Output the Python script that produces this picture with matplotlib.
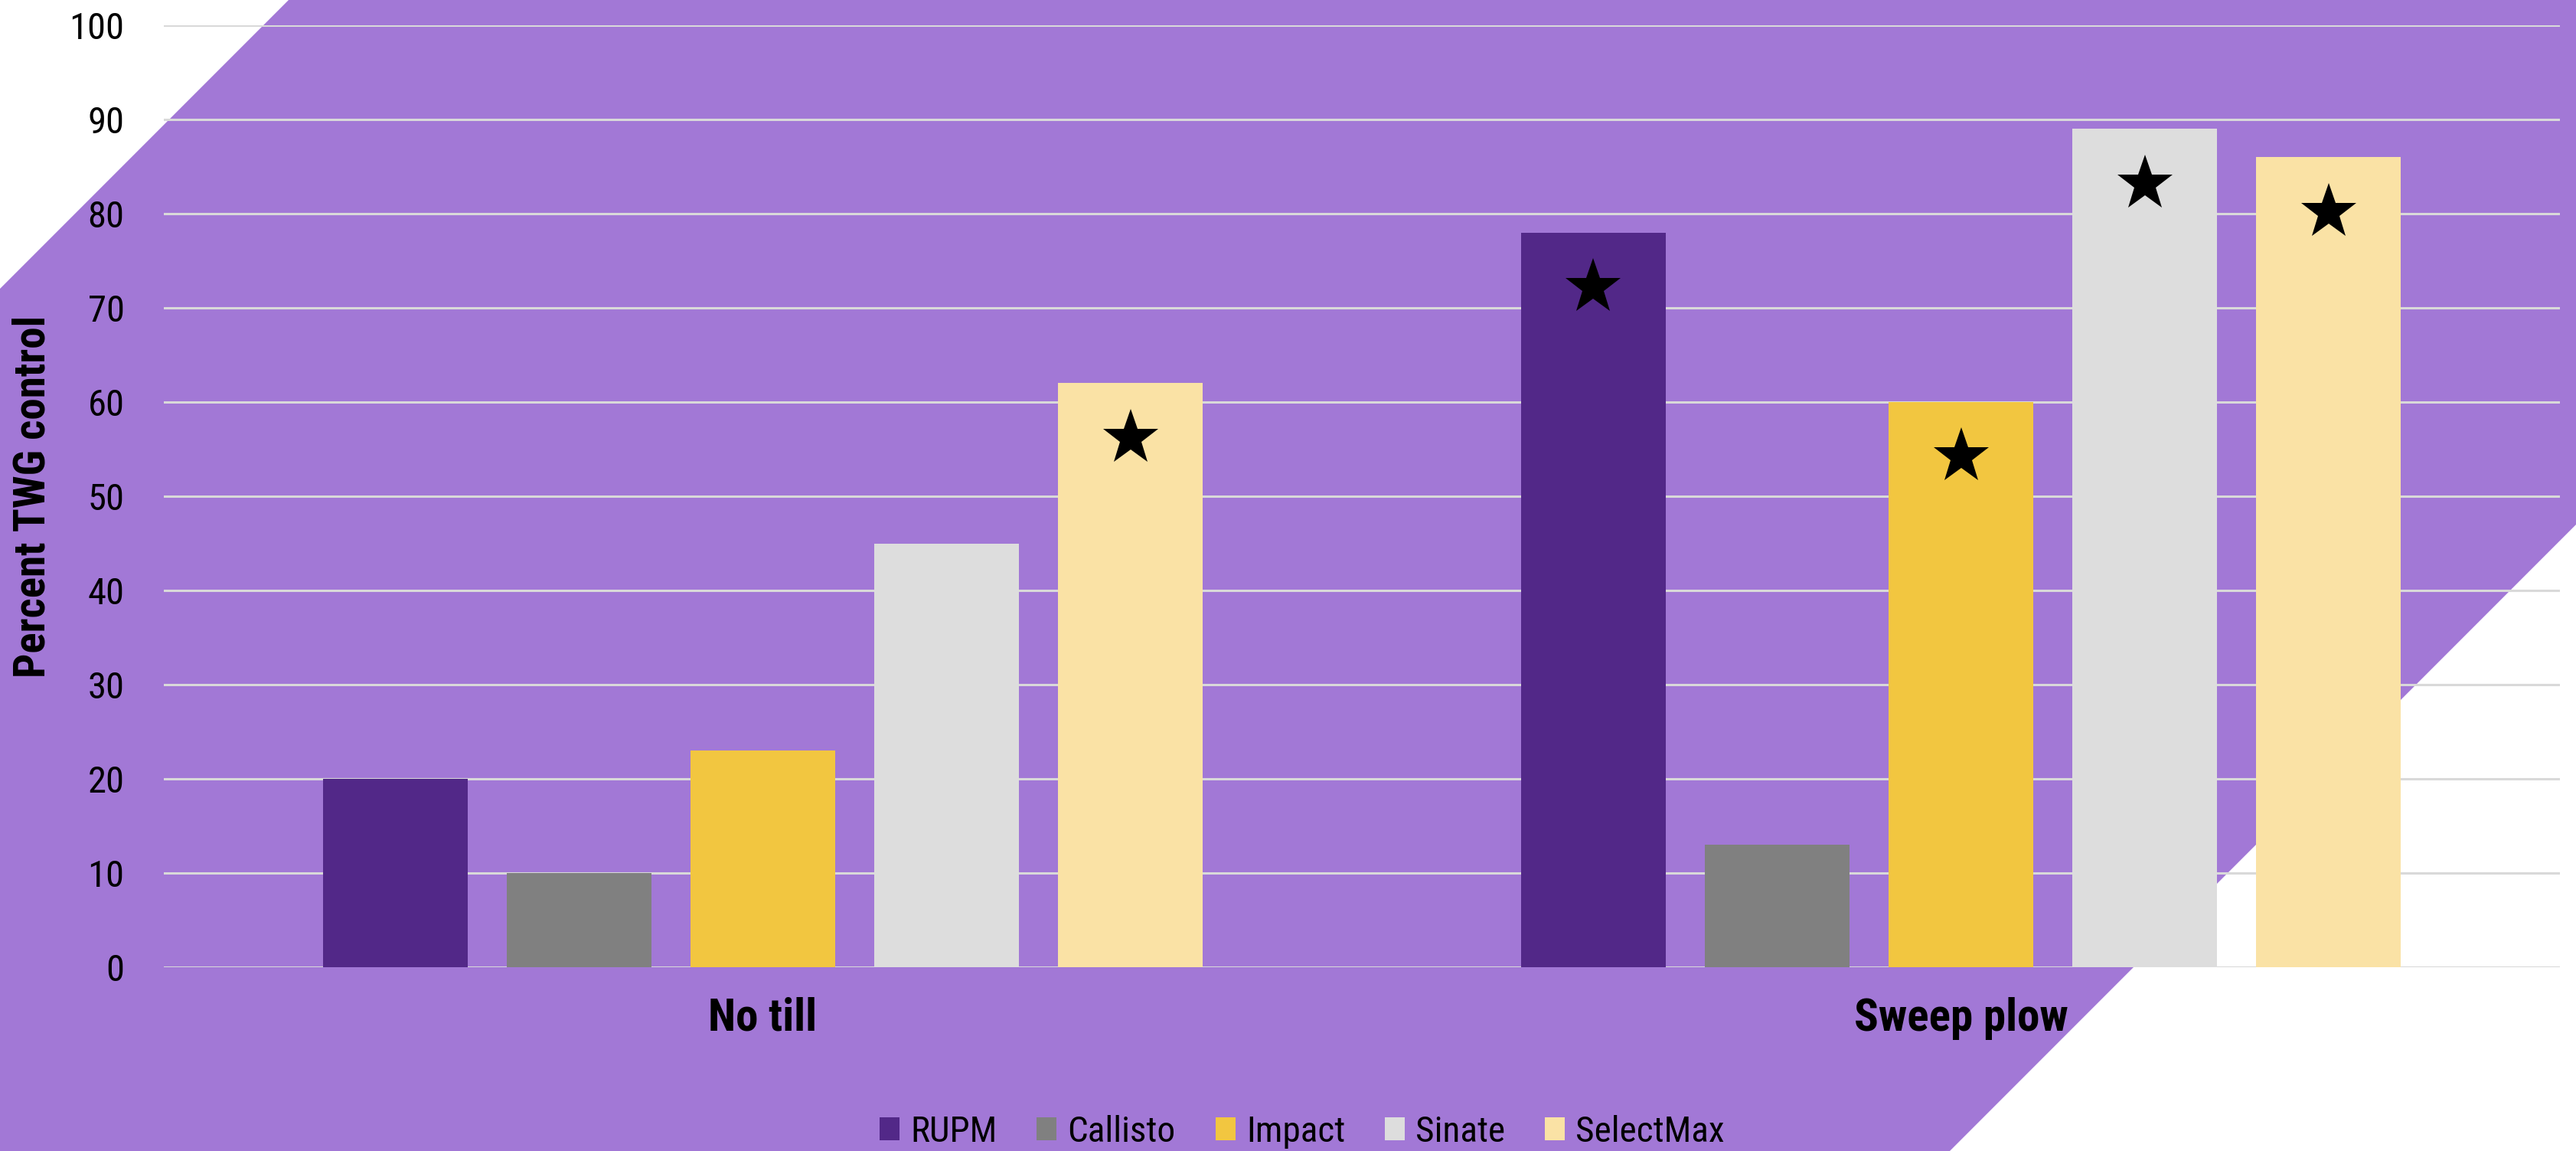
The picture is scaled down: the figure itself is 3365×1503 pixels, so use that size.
import matplotlib
matplotlib.use("Agg")
import matplotlib.pyplot as plt
from matplotlib.patches import Polygon, Patch
from matplotlib import font_manager
import numpy as np

categories = ["No till", "Sweep plow"]
series = ["RUPM", "Callisto", "Impact", "Sinate", "SelectMax"]
rupm = [20, 78]
callisto = [10, 13]
impact = [23, 60]
sinate = [45, 89]
selectmax = [62, 86]
values = [rupm, callisto, impact, sinate, selectmax]
# significance stars (True where a star is drawn)
stars_rupm = [False, True]
stars_callisto = [False, False]
stars_impact = [False, True]
stars_sinate = [False, True]
stars_selectmax = [True, True]
stars = [stars_rupm, stars_callisto, stars_impact, stars_sinate, stars_selectmax]
colors = ["#522888", "#808080", "#F2C640", "#DDDDDD", "#FAE2A5"]
yticks = [0, 10, 20, 30, 40, 50, 60, 70, 80, 90, 100]

# choose a condensed font if available
names = {f.name for f in font_manager.fontManager.ttflist}
family = "DejaVu Sans"
stretch = "condensed"
for cand in ["Liberation Sans Narrow", "Roboto Condensed", "Open Sans Condensed", "Arial Narrow"]:
    if cand in names:
        family = cand
        stretch = "normal"
        break
plt.rcParams['font.family'] = [family, 'DejaVu Sans']
plt.rcParams['font.stretch'] = stretch

W, H = 3365, 1503
fig = plt.figure(figsize=(W / 100, H / 100), dpi=100)

# background purple shape
pts = [(377, 0), (W, 0), (W, 4050 - W), (4050 - H, H), (0, H), (0, 377)]
poly = Polygon([(x / W, 1 - y / H) for x, y in pts], closed=True,
               transform=fig.transFigure, facecolor="#A278D6", edgecolor="none", zorder=-10)
fig.patches.append(poly)

ax = fig.add_axes([214 / W, 1 - 1263 / H, (3344 - 214) / W, (1263 - 33) / H])
ax.set_zorder(1)
ax.set_facecolor("none")
ax.patch.set_alpha(0)

x = np.arange(len(categories))
step = 0.1534
width = 0.1208
for i, (name, vals, col, st) in enumerate(zip(series, values, colors, stars)):
    xs = x + (i - 2) * step
    ax.bar(xs, vals, width=width, color=col, label=name, zorder=3)
    for xi, v, s in zip(xs, vals, st):
        if s:
            ax.plot(xi, v - 5.8, marker="*", markersize=55, color="black",
                    markeredgewidth=0, zorder=4)

ax.set_xlim(-0.5, 1.5)
ax.set_ylim(0, 100)
ax.set_yticks(yticks)
ax.set_yticklabels([str(t) for t in yticks], fontsize=35)
ax.yaxis.grid(True, color="#D9D9D9", linewidth=2.2, zorder=1)
ax.set_axisbelow(True)
ax.tick_params(axis="y", length=0, pad=37)
ax.set_xticks(x)
ax.set_xticklabels(categories, fontsize=42.5, fontweight="bold")
ax.tick_params(axis="x", length=0, pad=28)
for sp in ax.spines.values():
    sp.set_visible(False)

fig.text(43 / W, 1 - 648 / H, "Percent TWG control", rotation=90, ha="center",
         va="center", fontsize=41, fontweight="bold")

handles = [Patch(facecolor=c, edgecolor="none", label=n) for c, n in zip(colors, series)]
fig.legend(handles=handles, loc="center", bbox_to_anchor=(1701 / W, 1 - 1478 / H),
           ncol=5, frameon=False, fontsize=34, handlelength=0.55, handleheight=0.6,
           handletextpad=0.3, columnspacing=1.1)

fig.savefig("out.png", dpi=100)
